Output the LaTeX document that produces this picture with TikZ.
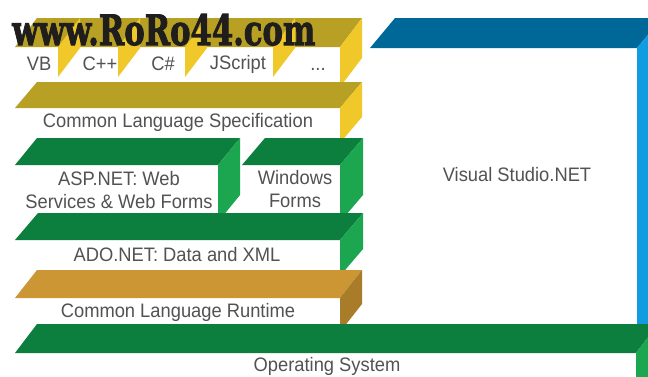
\documentclass[tikz,border=0pt]{standalone}
\usepackage{fontspec}
\usepackage{graphicx}
\setmainfont{Liberation Sans}[FakeStretch=0.94]
\newfontfamily\wmfont{DejaVu Serif}[FakeBold=2.5]
\definecolor{goldtop}{RGB}{184,160,36}
\definecolor{yellowside}{RGB}{240,200,42}
\definecolor{greentop}{RGB}{12,126,62}
\definecolor{greenside}{RGB}{28,166,80}
\definecolor{clrtop}{RGB}{204,150,52}
\definecolor{clrside}{RGB}{168,124,40}
\definecolor{vstop}{RGB}{0,104,152}
\definecolor{vsside}{RGB}{16,156,224}
\definecolor{textgray}{RGB}{82,82,82}
\definecolor{wmcolor}{RGB}{32,30,28}
% top face: xL, xR, yb, dx, dy, colour
\newcommand\shelftop[6]{%
  \fill[#6] (#1,#3) -- (#2,#3) -- ({#2+#4},{#3-#5}) -- ({#1+#4},{#3-#5}) -- cycle;}
% side face: xR, yb, dx, dy, H, colour
\newcommand\shelfside[6]{%
  \fill[#6] (#1,#2) -- ({#1+#3},{#2-#4}) -- ({#1+#3},{#2-#4+#5}) -- (#1,{#2+#5}) -- cycle;}
\tikzset{
  lbl/.style={inner sep=0pt, text=textgray, font=\fontsize{19.5}{23.5}\selectfont, align=center},
  wm/.style={inner sep=0pt, anchor=base west, text=wmcolor}
}
\begin{document}
\begin{tikzpicture}[x=1pt,y=-1pt]
\useasboundingbox (0,0) rectangle (648,376);
\fill[white] (0,0) rectangle (648,376);
% languages
\shelftop{15}{340}{47}{22}{29}{goldtop}
\shelfside{58}{47}{22}{29}{30}{yellowside}
\shelfside{118}{47}{22}{29}{30}{yellowside}
\shelfside{185}{47}{22}{29}{30}{yellowside}
\shelfside{273}{47}{22}{29}{30}{yellowside}
\shelfside{340}{47}{22}{29}{40}{yellowside}
% CLS
\shelftop{15}{340}{108}{22}{26}{goldtop}
\shelfside{340}{108}{22}{26}{35}{yellowside}
% ASP.NET
\shelftop{15}{218}{165}{22}{27}{greentop}
\shelfside{218}{165}{22}{27}{57}{greenside}
% Windows Forms
\shelftop{242}{340}{165}{23}{27}{greentop}
\shelfside{340}{165}{23}{27}{57}{greenside}
% ADO.NET
\shelftop{15}{340}{240}{23}{27}{greentop}
\shelfside{340}{240}{23}{27}{36}{greenside}
% CLR
\shelftop{15}{340}{298}{22}{28}{clrtop}
\shelfside{340}{298}{22}{28}{34}{clrside}
% Visual Studio
\shelftop{370}{637}{48}{25}{30}{vstop}
\shelfside{637}{48}{25}{30}{292}{vsside}
% Operating system
\shelftop{15}{636}{353}{22}{29}{greentop}
\shelfside{636}{353}{22}{29}{40}{greenside}
% labels
\node[lbl] (vb) at (39,64) {VB};
\node[lbl] (cpp) at (100,64) {C++};
\node[lbl] (cs) at (163,64) {C\#};
\node[lbl] (js) at (238,64) {JScript};
\node[lbl, anchor=base] (more) at (318,70) {...};
\node[lbl] (cls) at (178,122) {Common Language Specification};
\node[lbl] (asp) at (119,190) {ASP.NET: Web\\Services \& Web Forms};
\node[lbl] (win) at (295,189) {Windows\\Forms};
\node[lbl] (ado) at (177,255) {ADO.NET: Data and XML};
\node[lbl] (clr) at (178,312) {Common Language Runtime};
\node[lbl] (os) at (327,366) {Operating System};
\node[lbl] (vs) at (517,175) {Visual Studio.NET};
% watermark
\node[wm] (mark) at (12,45) {\resizebox{303pt}{31pt}{\wmfont\bfseries www.RoRo44.com}};
\end{tikzpicture}
\end{document}
